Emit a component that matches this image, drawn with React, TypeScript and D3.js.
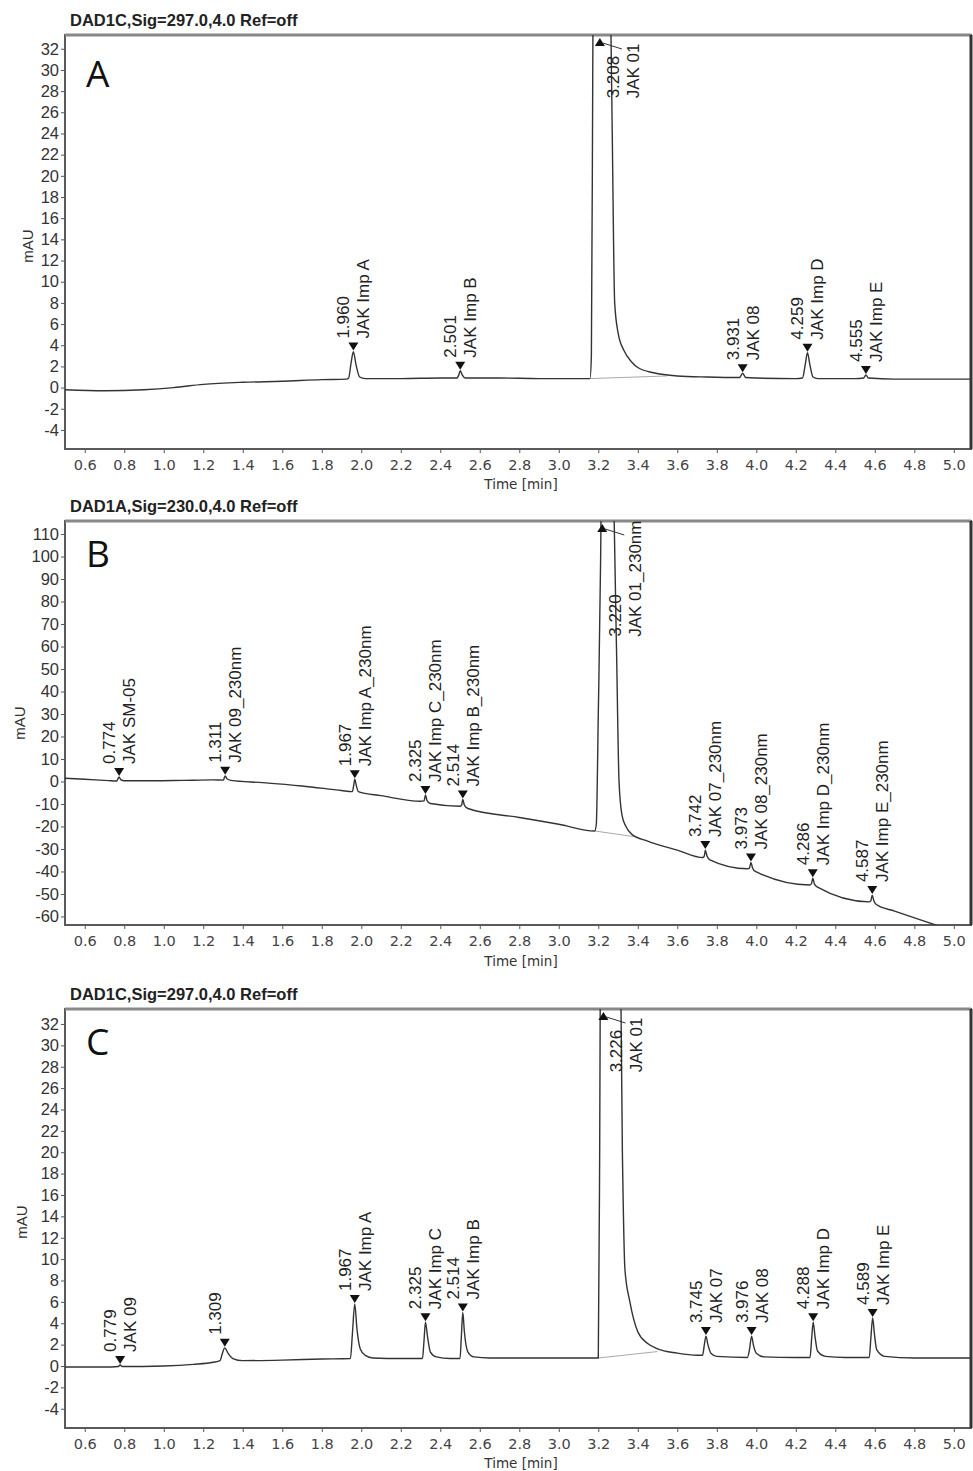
import React, { useEffect, useRef } from 'react';
import * as d3 from 'd3';

type Pt = [number, number];
type Peak = [number, string];

// x axis ticks (min), shared by the three runs
const timeTicks = [0.6, 0.8, 1.0, 1.2, 1.4, 1.6, 1.8, 2.0, 2.2, 2.4, 2.6, 2.8, 3.0, 3.2, 3.4, 3.6, 3.8, 4.0, 4.2, 4.4, 4.6, 4.8, 5.0];
const mauTicksA = [-4, -2, 0, 2, 4, 6, 8, 10, 12, 14, 16, 18, 20, 22, 24, 26, 28, 30, 32];
const mauTicksB = [-60, -50, -40, -30, -20, -10, 0, 10, 20, 30, 40, 50, 60, 70, 80, 90, 100, 110];
const mauTicksC = [-4, -2, 0, 2, 4, 6, 8, 10, 12, 14, 16, 18, 20, 22, 24, 26, 28, 30, 32];

// trace A, DAD1C 297 nm
const traceA: Pt[] = [
  [0.5, -0.2], [0.7, -0.3], [0.9, -0.2], [1.05, 0.0], [1.2, 0.3], [1.4, 0.5], [1.6, 0.6], [1.8, 0.75], [1.925, 0.8],
  [1.936, 0.9], [1.949, 2.4], [1.96, 3.4], [1.973, 2.2], [1.992, 1.0], [2.02, 0.85],
  [2.2, 0.85], [2.4, 0.9], [2.484, 0.9], [2.494, 1.2], [2.501, 1.6], [2.511, 1.2], [2.527, 0.9],
  [2.7, 0.9], [2.9, 0.85], [3.05, 0.85], [3.158, 0.85], [3.165, 3], [3.172, 30], [3.18, 60], [3.208, 80],
  [3.245, 60], [3.27, 25], [3.283, 8], [3.3, 5.2], [3.33, 3.5], [3.37, 2.4], [3.4, 1.9], [3.48, 1.4], [3.6, 1.1],
  [3.75, 1.0], [3.915, 0.95], [3.931, 1.35], [3.946, 0.95], [4.0, 0.9], [4.2, 0.85],
  [4.234, 0.9], [4.248, 2.2], [4.259, 3.3], [4.271, 2.2], [4.287, 1.0], [4.31, 0.85],
  [4.5, 0.85], [4.543, 0.9], [4.555, 1.2], [4.567, 0.9], [4.7, 0.8], [4.9, 0.8], [5.09, 0.8],
];
const peaksA: Peak[] = [
  [1.96, 'JAK Imp A'], [2.501, 'JAK Imp B'], [3.208, 'JAK 01'], [3.931, 'JAK 08'], [4.259, 'JAK Imp D'], [4.555, 'JAK Imp E'],
];
const dropA: Pt[] = [[3.16, 0.85], [3.55, 1.1]];

// trace B, DAD1A 230 nm
const traceB: Pt[] = [
  [0.49, 1.5], [0.6, 1.0], [0.72, 0.4], [0.762, 0.2], [0.768, 1.2], [0.774, 2.0], [0.782, 0.8], [0.8, 0.3],
  [0.95, 0.3], [1.1, 0.5], [1.25, 0.7], [1.302, 0.6], [1.306, 1.5], [1.311, 2.5], [1.32, 1.2], [1.34, 0.5],
  [1.5, -0.5], [1.7, -2.0], [1.9, -4.0], [1.955, -4.5], [1.962, -1.5], [1.967, 1.0], [1.974, -1.5], [1.985, -4.5],
  [2.1, -6.3], [2.3, -8.8], [2.318, -8.6], [2.325, -6.0], [2.333, -8.5], [2.35, -9.8],
  [2.5, -11.0], [2.508, -10.5], [2.514, -8.0], [2.522, -10.5], [2.54, -12.0],
  [2.8, -16.0], [3.0, -19.0], [3.182, -22.0], [3.19, -19], [3.2, 30], [3.212, 100], [3.22, 180],
  [3.27, 150], [3.292, 60], [3.305, 0], [3.32, -15], [3.34, -20], [3.37, -23.5], [3.45, -26.5],
  [3.6, -30.5], [3.73, -33.8], [3.737, -33], [3.742, -30.5], [3.75, -33], [3.765, -34.8],
  [3.955, -38.8], [3.965, -38.5], [3.973, -36], [3.981, -38.5], [3.995, -40],
  [4.27, -46], [4.279, -45.5], [4.286, -43], [4.294, -45.5], [4.31, -47],
  [4.57, -53.5], [4.58, -53], [4.587, -50.5], [4.595, -53], [4.61, -54.8], [4.7, -57.6], [4.82, -61.2], [4.95, -65], [5.09, -69],
];
const peaksB: Peak[] = [
  [0.774, 'JAK SM-05'], [1.311, 'JAK 09_230nm'], [1.967, 'JAK Imp A_230nm'], [2.325, 'JAK Imp C_230nm'],
  [2.514, 'JAK Imp B_230nm'], [3.22, 'JAK 01_230nm'], [3.742, 'JAK 07_230nm'], [3.973, 'JAK 08_230nm'],
  [4.286, 'JAK Imp D_230nm'], [4.587, 'JAK Imp E_230nm'],
];
const dropB: Pt[] = [[3.182, -22.0], [3.38, -24.5]];

// trace C, DAD1C 297 nm
const traceC: Pt[] = [
  [0.49, -0.1], [0.7, -0.1], [0.77, -0.05], [0.779, 0.1], [0.79, -0.05], [1.0, 0.0], [1.15, 0.15], [1.25, 0.35],
  [1.285, 0.5], [1.297, 1.2], [1.309, 1.7], [1.325, 1.2], [1.35, 0.7], [1.4, 0.5], [1.6, 0.55], [1.8, 0.65],
  [1.945, 0.7], [1.955, 3.0], [1.967, 5.8], [1.978, 3.5], [1.995, 1.6], [2.02, 1.0], [2.06, 0.75],
  [2.2, 0.7], [2.31, 0.7], [2.317, 2.2], [2.325, 4.1], [2.335, 2.8], [2.35, 1.3], [2.38, 0.85],
  [2.45, 0.7], [2.5, 0.7], [2.506, 2.5], [2.514, 5.0], [2.522, 3.2], [2.54, 1.3], [2.57, 0.85], [2.65, 0.75],
  [2.9, 0.75], [3.1, 0.75], [3.2, 0.75], [3.207, 20], [3.215, 60], [3.226, 80], [3.3, 60], [3.322, 20],
  [3.335, 9], [3.36, 6.0], [3.4, 3.2], [3.45, 2.1], [3.5, 1.6], [3.6, 1.2], [3.7, 1.0],
  [3.728, 1.0], [3.737, 2.0], [3.745, 2.8], [3.755, 2.0], [3.77, 1.2], [3.8, 0.9],
  [3.955, 0.8], [3.966, 1.6], [3.976, 2.8], [3.986, 1.9], [4.0, 1.2], [4.04, 0.85],
  [4.2, 0.8], [4.272, 0.8], [4.28, 2.5], [4.288, 4.1], [4.297, 2.8], [4.31, 1.4], [4.35, 0.9],
  [4.45, 0.8], [4.572, 0.8], [4.58, 2.6], [4.589, 4.5], [4.598, 3.0], [4.61, 1.5], [4.65, 0.9],
  [4.8, 0.75], [5.09, 0.75],
];
const peaksC: Peak[] = [
  [0.779, 'JAK 09'], [1.309, ''], [1.967, 'JAK Imp A'], [2.325, 'JAK Imp C'], [2.514, 'JAK Imp B'],
  [3.226, 'JAK 01'], [3.745, 'JAK 07'], [3.976, 'JAK 08'], [4.288, 'JAK Imp D'], [4.589, 'JAK Imp E'],
];
const dropC: Pt[] = [[3.2, 0.75], [3.5, 1.35]];

const panels = [
  { id: 'a', title: 'DAD1C,Sig=297.0,4.0  Ref=off', letter: 'A', top: 35, bottom: 449, yDomain: [-5.8, 33.3], yTicks: mauTicksA,
    trace: traceA, peaks: peaksA, drop: dropA, titleY: 26, letterY: 87, mauX: 28, mauY: 246, tickY: 470, timeY: 489 },
  { id: 'b', title: 'DAD1A,Sig=230.0,4.0  Ref=off', letter: 'B', top: 521, bottom: 925, yDomain: [-63.8, 115.8], yTicks: mauTicksB,
    trace: traceB, peaks: peaksB, drop: dropB, titleY: 512, letterY: 567, mauX: 20, mauY: 723, tickY: 946, timeY: 966 },
  { id: 'c', title: 'DAD1C,Sig=297.0,4.0  Ref=off', letter: 'C', top: 1009, bottom: 1428, yDomain: [-5.8, 33.4], yTicks: mauTicksC,
    trace: traceC, peaks: peaksC, drop: dropC, titleY: 1000, letterY: 1055, mauX: 22, mauY: 1222, tickY: 1449, timeY: 1468 },
];

const LEFT = 65;
const RIGHT = 971;
const LABEL_FONT = '"Liberation Sans", Arial, sans-serif';

const App = () => {
  const ref = useRef<SVGSVGElement>(null);

  useEffect(() => {
    const svg = d3.select(ref.current);
    svg.selectAll('*').remove();
    svg.append('rect').attr('width', 973).attr('height', 1471).attr('fill', '#fff');

    const x = d3.scaleLinear().domain([0.5, 5.087]).range([LEFT, RIGHT]);

    panels.forEach((p) => {
      const y = d3.scaleLinear().domain(p.yDomain).range([p.bottom, p.top]);
      const g = svg.append('g');

      // clip for the trace
      g.append('clipPath').attr('id', 'clip-' + p.id)
        .append('rect').attr('x', LEFT).attr('y', p.top).attr('width', RIGHT - LEFT).attr('height', p.bottom - p.top);

      // title + panel letter
      g.append('text').attr('x', 70).attr('y', p.titleY).text(p.title)
        .attr('font-family', LABEL_FONT).attr('font-weight', 'bold').attr('font-size', 16.5).attr('fill', '#222');
      g.append('text').attr('x', 86).attr('y', p.letterY).text(p.letter)
        .attr('font-family', '"Open Sans", sans-serif').attr('font-size', 37).attr('fill', '#111');

      // y axis
      const yAxis = g.append('g').attr('transform', `translate(${LEFT},0)`)
        .call(d3.axisLeft(y).tickValues(p.yTicks).tickSize(4).tickPadding(2).tickFormat((d) => String(d)));
      yAxis.select('.domain').remove();
      yAxis.selectAll('line').attr('stroke', '#555');
      yAxis.selectAll('text').attr('font-family', LABEL_FONT).attr('font-size', 16.5).attr('fill', '#333');

      // x axis
      const xAxis = g.append('g').attr('transform', `translate(0,${p.bottom})`)
        .call(d3.axisBottom(x).tickValues(timeTicks).tickSize(4).tickFormat(d3.format('.1f')));
      xAxis.select('.domain').remove();
      xAxis.selectAll('line').attr('stroke', '#555');
      xAxis.selectAll('text').attr('y', p.tickY - p.bottom).attr('dy', 0)
        .attr('font-family', '"DejaVu Sans", sans-serif').attr('font-size', 14.5).attr('fill', '#444');

      g.append('text').attr('x', 521).attr('y', p.timeY).attr('text-anchor', 'middle').text('Time [min]')
        .attr('font-family', '"DejaVu Sans", sans-serif').attr('font-size', 13.5).attr('fill', '#333');
      g.append('text').attr('transform', `translate(${p.mauX},${p.mauY}) rotate(-90)`).attr('text-anchor', 'middle')
        .attr('dy', '0.35em').text('mAU')
        .attr('font-family', LABEL_FONT).attr('font-size', 15).attr('fill', '#333');

      // frame
      g.append('rect').attr('x', LEFT).attr('y', p.top).attr('width', RIGHT - LEFT).attr('height', p.bottom - p.top)
        .attr('fill', 'none').attr('stroke', '#5a5a5a').attr('stroke-width', 2);
      g.append('line').attr('x1', LEFT).attr('x2', RIGHT).attr('y1', p.top).attr('y2', p.top)
        .attr('stroke', '#888').attr('stroke-width', 3);
      g.append('line').attr('x1', RIGHT).attr('x2', RIGHT).attr('y1', p.top).attr('y2', p.bottom)
        .attr('stroke', '#333').attr('stroke-width', 3);

      // integration baseline under main peak
      g.append('path').datum(p.drop)
        .attr('d', d3.line<Pt>().x((d) => x(d[0])).y((d) => y(d[1])))
        .attr('fill', 'none').attr('stroke', '#aaa').attr('stroke-width', 1);

      // trace
      g.append('path').datum(p.trace).attr('clip-path', `url(#clip-${p.id})`)
        .attr('d', d3.line<Pt>().x((d) => x(d[0])).y((d) => y(d[1])).curve(d3.curveMonotoneX))
        .attr('fill', 'none').attr('stroke', '#333').attr('stroke-width', 1.4).attr('stroke-linejoin', 'round');

      // peak labels
      const ymax = p.yDomain[1];
      p.peaks.forEach(([rt, name]) => {
        const pt = p.trace.find((d) => d[0] === rt);
        const apex = pt ? pt[1] : 0;
        const mx = x(rt);
        if (apex > ymax) {
          // off-scale peak: marker at the top, label hanging down with a leader
          g.append('path').attr('d', `M${mx - 5},${p.top + 11} L${mx + 5},${p.top + 11} L${mx},${p.top + 3} Z`).attr('fill', '#111');
          g.append('line').attr('x1', mx + 3).attr('y1', p.top + 8).attr('x2', mx + 22).attr('y2', p.top + 14)
            .attr('stroke', '#333').attr('stroke-width', 1);
          const lg = g.append('g');
          const nameText = lg.append('text').attr('y', 16).text(name);
          const len = (nameText.node() as SVGTextElement).getComputedTextLength() || 0;
          lg.attr('transform', `translate(${mx + 23},${p.top + 14 + len}) rotate(-90)`);
          lg.append('text').attr('y', -4).text(rt.toFixed(3));
          lg.selectAll('text').attr('font-family', LABEL_FONT).attr('font-size', 17).attr('fill', '#222');
          return;
        }
        const py = y(apex);
        g.append('path').attr('d', `M${mx - 5},${py - 9} L${mx + 5},${py - 9} L${mx},${py - 1} Z`).attr('fill', '#111');
        const lg = g.append('g').attr('transform', `translate(${mx},${py - 13}) rotate(-90)`);
        lg.append('text').attr('y', -4).text(rt.toFixed(3));
        if (name) lg.append('text').attr('y', 16).text(name);
        lg.selectAll('text').attr('font-family', LABEL_FONT).attr('font-size', 17).attr('fill', '#222');
      });
    });
  }, []);

  return (
    <svg ref={ref} width={973} height={1471} style={{ position: 'absolute', left: 0, top: 0 }}></svg>
  );
};

export default App;
